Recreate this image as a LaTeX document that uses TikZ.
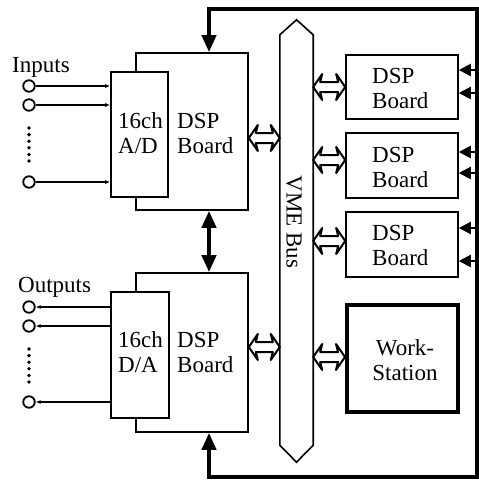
\documentclass[tikz,border=0pt]{standalone}
\usepackage{fontspec}
\setmainfont{Liberation Serif}
\usetikzlibrary{arrows.meta,calc}
\begin{document}
\begin{tikzpicture}[x=1pt,y=-1pt,
  board/.style={draw, line width=1.6pt, fill=white, inner sep=0pt},
  lbl/.style={font=\fontsize{23}{25}\selectfont, inner sep=0pt, align=left},
  port/.style={draw, circle, line width=1.8pt, fill=white, minimum size=11.5pt, inner sep=0pt},
  sigarr/.style={line width=1.3pt, -{Latex[length=5pt,width=4pt]}},
  bigtip/.style={line width=4pt, {Triangle[length=17pt,width=14pt]}-{Triangle[length=17pt,width=14pt]}},
  sidearr/.style={line width=2.2pt, -{Triangle[length=12pt,width=12pt]}},
  busarr/.style={line width=2pt, fill=white, line join=round,
    to path={let \p1=(\tikztostart), \p2=(\tikztotarget) in
      (\x1,\y1) -- (\x1+9pt,\y1+13pt) -- (\x1+7pt,\y1+5pt) -- (\x2-7pt,\y1+5pt) -- (\x2-9pt,\y1+13pt)
      -- (\x2,\y1) -- (\x2-9pt,\y1-13pt) -- (\x2-7pt,\y1-5pt) -- (\x1+7pt,\y1-5pt) -- (\x1+9pt,\y1-13pt) -- cycle}}
]
\useasboundingbox (0,0) rectangle (479,483);

% bus
\node[inner sep=0pt, minimum width=33pt, minimum height=410pt] (bus) at (296.5,240) {};
\draw[line width=1.6pt, fill=white] (bus.south west) -- (bus.north west) -- ($(bus.north)+(0,-15)$) -- (bus.north east) -- (bus.south east) -- ($(bus.south)+(0,17)$) -- cycle;
\node[lbl, rotate=-90] (vme) at (294,222) {VME Bus};

% left boards
\node[board, minimum width=112pt, minimum height=157pt] (tlb) at (192,131.5) {};
\node[board, minimum width=57pt, minimum height=125pt] (ad) at (139.5,134.5) {};
\node[board, minimum width=112pt, minimum height=159pt] (blb) at (192,352.5) {};
\node[board, minimum width=58pt, minimum height=126pt] (da) at (140,355) {};

\node[lbl, anchor=base west] (adtxt) at (118,153) {16ch\\A/D};
\node[lbl, anchor=base west] (tltxt) at (177,153) {DSP\\Board};
\node[lbl, anchor=base west] (datxt) at (118,372) {16ch\\D/A};
\node[lbl, anchor=base west] (bltxt) at (177,372) {DSP\\Board};

% right boards
\node[board, minimum width=112pt, minimum height=64pt] (r1) at (402,87) {};
\node[board, minimum width=112pt, minimum height=65pt] (r2) at (402,165.5) {};
\node[board, minimum width=112pt, minimum height=65pt] (r3) at (402,244.5) {};
\node[board, line width=4pt, minimum width=111pt, minimum height=107pt] (ws) at (402.5,358.5) {};
\node[lbl, anchor=base west] (r1txt) at (372,108) {DSP\\Board};
\node[lbl, anchor=base west] (r2txt) at (372,187) {DSP\\Board};
\node[lbl, anchor=base west] (r3txt) at (372,265) {DSP\\Board};
\node[lbl, align=center, anchor=base] (wstxt) at (405,380) {Work-\\Station};

% inputs / outputs
\node[lbl, anchor=base west] (inlbl) at (12,72) {Inputs};
\node[lbl, anchor=base west] (outlbl) at (18,292) {Outputs};
\node[port] (in1) at (29,86) {};
\node[port] (in2) at (29,105) {};
\node[port] (in3) at (29,182) {};
\node[port] (out1) at (29,307) {};
\node[port] (out2) at (29,326) {};
\node[port] (out3) at (29,402) {};
\foreach \i in {0,...,5} {
  \fill (29,128+6.6*\i) circle (1.9);
  \fill (29,349+6.6*\i) circle (1.9);
}
\foreach \p in {in1,in2,in3} \draw[sigarr] (\p) -- (\p -| ad.west);
\foreach \p in {out1,out2,out3} \draw[sigarr] (\p -| da.west) -- (\p);

% control loop
\coordinate (tc) at (209,8.5);
\coordinate (trc) at (476.5,8.5);
\coordinate (brc) at (476.5,477);
\coordinate (bc) at (209,477);
\draw[bigtip, line join=miter] (tlb.north -| tc) -- (tc) -- (trc) -- (brc) -- (bc) -- (blb.south -| bc);
\draw[bigtip] (tlb.south -| tc) -- (blb.north -| tc);

\draw[sidearr] ($(r1.east)+(18,-17)$) -- ($(r1.east)+(0,-17)$);
\draw[sidearr] ($(r1.east)+(18,6)$) -- ($(r1.east)+(0,6)$);
\draw[sidearr] ($(r2.east)+(18,-13.5)$) -- ($(r2.east)+(0,-13.5)$);
\draw[sidearr] ($(r2.east)+(18,7.5)$) -- ($(r2.east)+(0,7.5)$);
\draw[sidearr] ($(r3.east)+(18,-16.5)$) -- ($(r3.east)+(0,-16.5)$);
\draw[sidearr] ($(r3.east)+(18,16.5)$) -- ($(r3.east)+(0,16.5)$);

% bus connections
\draw[busarr] ($(tlb.east)+(0,6.5)$) to ($(bus.west |- tlb.east)+(0,6.5)$);
\draw[busarr] ($(blb.east)+(0,-5.5)$) to ($(bus.west |- blb.east)+(0,-5.5)$);
\draw[busarr] (bus.east |- r1.west) to (r1.west);
\draw[busarr] ($(bus.east |- r2.west)+(0,-5.5)$) to ($(r2.west)+(0,-5.5)$);
\draw[busarr] ($(bus.east |- r3.west)+(0,-3.5)$) to ($(r3.west)+(0,-3.5)$);
\draw[busarr] ($(bus.east |- ws.west)+(0,-1.5)$) to ($(ws.west)+(0,-1.5)$);
\end{tikzpicture}
\end{document}
